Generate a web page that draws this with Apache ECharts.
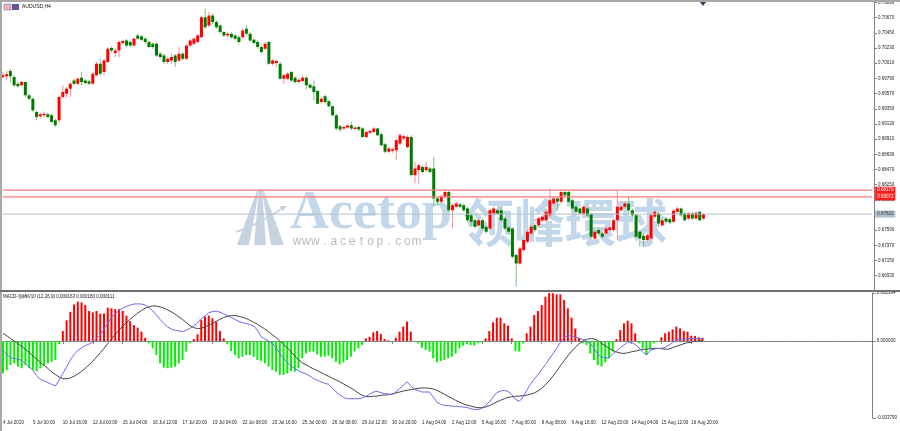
<!DOCTYPE html>
<html>
<head>
<meta charset="utf-8">
<script src="https://cdn.jsdelivr.net/npm/echarts@6/dist/echarts.min.js"></script>
<style>
html, body { margin: 0; padding: 0; background: #fff; }
#main { width: 900px; height: 431px; }
</style>
</head>
<body>
<div id="main"></div>
<script>
var chart = echarts.init(document.getElementById('main'));

// AUDUSD H4 bars: [open, close, low, high]
var ohlc = [
  [0.69810,0.69834,0.69786,0.69882],[0.69820,0.69849,0.69761,0.69897],[0.69897,0.69820,0.69737,0.69930],[0.69810,0.69689,0.69665,0.69834],
  [0.69713,0.69675,0.69656,0.69737],[0.69689,0.69737,0.69675,0.69753],[0.69737,0.69544,0.69520,0.69753],[0.69544,0.69496,0.69472,0.69569],
  [0.69496,0.69327,0.69303,0.69512],[0.69303,0.69231,0.69183,0.69327],[0.69242,0.69271,0.69207,0.69290],[0.69255,0.69279,0.69222,0.69303],
  [0.69271,0.69231,0.69207,0.69290],[0.69255,0.69159,0.69145,0.69279],[0.69183,0.69110,0.69086,0.69207],[0.69183,0.69520,0.69135,0.69544],
  [0.69520,0.69593,0.69496,0.69689],[0.69569,0.69641,0.69512,0.69665],[0.69641,0.69713,0.69520,0.69737],[0.69761,0.69713,0.69689,0.69786],
  [0.69713,0.69786,0.69689,0.69810],[0.69801,0.69737,0.69689,0.69882],[0.69761,0.69724,0.69704,0.69786],[0.69748,0.69713,0.69689,0.69772],
  [0.69713,0.69858,0.69704,0.69882],[0.69834,0.70003,0.69820,0.70027],[0.70003,0.69858,0.69834,0.70075],[0.69882,0.70051,0.69834,0.70075],
  [0.70027,0.70220,0.70013,0.70244],[0.70230,0.70196,0.70171,0.70254],[0.70157,0.70196,0.70099,0.70220],[0.70196,0.70316,0.70099,0.70340],
  [0.70302,0.70331,0.70283,0.70350],[0.70340,0.70268,0.70244,0.70364],[0.70316,0.70268,0.70244,0.70340],[0.70268,0.70364,0.70254,0.70388],
  [0.70413,0.70364,0.70350,0.70437],[0.70398,0.70350,0.70331,0.70418],[0.70364,0.70316,0.70292,0.70388],[0.70316,0.70244,0.70230,0.70340],
  [0.70292,0.70244,0.70220,0.70307],[0.70292,0.70123,0.70099,0.70307],[0.70147,0.70099,0.70075,0.70171],[0.70123,0.70027,0.70003,0.70147],
  [0.70027,0.70075,0.70003,0.70099],[0.70051,0.70099,0.70003,0.70147],[0.70123,0.70027,0.69954,0.70147],[0.70051,0.70147,0.70027,0.70244],
  [0.70147,0.70075,0.70051,0.70171],[0.70075,0.70268,0.70061,0.70292],[0.70268,0.70340,0.70244,0.70364],[0.70292,0.70364,0.70268,0.70388],
  [0.70316,0.70413,0.70302,0.70437],[0.70388,0.70678,0.70379,0.70702],[0.70678,0.70533,0.70509,0.70798],[0.70557,0.70702,0.70533,0.70750],
  [0.70702,0.70606,0.70581,0.70726],[0.70606,0.70533,0.70509,0.70630],[0.70557,0.70461,0.70437,0.70572],[0.70461,0.70413,0.70388,0.70476],
  [0.70413,0.70437,0.70388,0.70451],[0.70437,0.70388,0.70364,0.70456],[0.70413,0.70364,0.70340,0.70437],[0.70388,0.70316,0.70292,0.70413],
  [0.70388,0.70485,0.70364,0.70509],[0.70509,0.70437,0.70413,0.70557],[0.70437,0.70340,0.70316,0.70461],[0.70350,0.70302,0.70283,0.70369],
  [0.70316,0.70244,0.70220,0.70340],[0.70244,0.70171,0.70147,0.70268],[0.70220,0.70292,0.70196,0.70316],[0.70316,0.70003,0.69989,0.70331],
  [0.70003,0.70051,0.69979,0.70075],[0.70013,0.70042,0.69954,0.70061],[0.70003,0.69786,0.69772,0.70027],[0.69786,0.69834,0.69713,0.69858],
  [0.69786,0.69858,0.69761,0.69882],[0.69882,0.69761,0.69737,0.69897],[0.69801,0.69737,0.69713,0.69820],[0.69737,0.69772,0.69713,0.69786],
  [0.69753,0.69801,0.69737,0.69834],[0.69801,0.69689,0.69627,0.69820],[0.69699,0.69656,0.69637,0.69713],[0.69675,0.69593,0.69472,0.69761],
  [0.69608,0.69424,0.69415,0.69627],[0.69448,0.69496,0.69424,0.69520],[0.69531,0.69448,0.69424,0.69550],[0.69458,0.69386,0.69367,0.69472],
  [0.69386,0.69255,0.69242,0.69400],[0.69255,0.69062,0.69038,0.69279],[0.69097,0.69049,0.69014,0.69116],[0.69062,0.69086,0.69038,0.69107],
  [0.69077,0.69107,0.69058,0.69126],[0.69110,0.69062,0.69038,0.69159],[0.69058,0.69077,0.69038,0.69097],[0.69086,0.69049,0.69029,0.69107],
  [0.69062,0.68942,0.68933,0.69086],[0.68942,0.69014,0.68923,0.69038],[0.69001,0.69029,0.68981,0.69049],[0.69014,0.69062,0.69001,0.69086],
  [0.69062,0.68966,0.68953,0.69077],[0.68981,0.68821,0.68808,0.69001],[0.68837,0.68726,0.68702,0.68856],[0.68726,0.68773,0.68702,0.68797],
  [0.68740,0.68764,0.68711,0.68788],[0.68749,0.68893,0.68605,0.68918],[0.68845,0.68966,0.68821,0.68990],[0.68918,0.68953,0.68893,0.68977],
  [0.68797,0.68942,0.68773,0.68966],[0.68942,0.68389,0.68364,0.68966],[0.68386,0.68483,0.68266,0.68579],[0.68459,0.68531,0.68266,0.68555],
  [0.68507,0.68435,0.68410,0.68531],[0.68459,0.68507,0.68435,0.68579],[0.68483,0.68435,0.68410,0.68507],[0.68483,0.68049,0.67928,0.68652],
  [0.68049,0.68001,0.67952,0.68073],[0.68001,0.68073,0.67976,0.68097],[0.68073,0.68145,0.68049,0.68169],[0.68145,0.67880,0.67856,0.68160],
  [0.67880,0.67952,0.67615,0.67976],[0.67928,0.67976,0.67904,0.68001],[0.67967,0.67928,0.67904,0.67986],[0.67952,0.67880,0.67856,0.67976],
  [0.67904,0.67735,0.67711,0.67928],[0.67808,0.67711,0.67639,0.67832],[0.67735,0.67639,0.67615,0.67759],[0.67663,0.67735,0.67639,0.67759],
  [0.67735,0.67615,0.67591,0.67759],[0.67639,0.67567,0.67542,0.67663],[0.67615,0.67880,0.67591,0.67904],[0.67832,0.67904,0.67808,0.67928],
  [0.67880,0.67832,0.67808,0.67904],[0.67880,0.67735,0.67711,0.67928],[0.67759,0.67615,0.67591,0.67784],[0.67630,0.67567,0.67542,0.67649],
  [0.67615,0.67205,0.67181,0.67630],[0.67229,0.67108,0.66771,0.67253],[0.67108,0.67325,0.67085,0.67350],[0.67301,0.67446,0.67277,0.67470],
  [0.67422,0.67567,0.67398,0.67591],[0.67542,0.67639,0.67518,0.67663],[0.67663,0.67591,0.67567,0.67687],[0.67663,0.67759,0.67639,0.67784],
  [0.67735,0.67784,0.67711,0.67808],[0.67735,0.67856,0.67711,0.67880],[0.67808,0.68025,0.67784,0.68193],[0.67976,0.68049,0.67952,0.68073],
  [0.68049,0.68001,0.67880,0.68073],[0.68001,0.68145,0.67976,0.68169],[0.68145,0.68097,0.68073,0.68169],[0.68145,0.68001,0.67986,0.68160],
  [0.68025,0.67904,0.67880,0.68049],[0.67928,0.67856,0.67832,0.67952],[0.67904,0.67832,0.67808,0.67928],[0.67832,0.67928,0.67808,0.67952],
  [0.67904,0.67808,0.67784,0.67928],[0.67823,0.67494,0.67470,0.67842],[0.67470,0.67567,0.67446,0.67591],[0.67591,0.67542,0.67518,0.67615],
  [0.67542,0.67494,0.67470,0.67567],[0.67542,0.67615,0.67518,0.67639],[0.67591,0.67630,0.67567,0.67649],[0.67591,0.67735,0.67567,0.67759],
  [0.67735,0.67928,0.67446,0.68169],[0.67880,0.67928,0.67856,0.67952],[0.67928,0.67976,0.67904,0.68001],[0.67976,0.67880,0.67856,0.68073],
  [0.67880,0.67808,0.67784,0.67904],[0.67808,0.67494,0.67470,0.67832],[0.67567,0.67470,0.67350,0.67591],[0.67504,0.67446,0.67350,0.67533],
  [0.67446,0.67518,0.67422,0.67542],[0.67470,0.67808,0.67456,0.67832],[0.67784,0.67856,0.67759,0.67880],[0.67832,0.67687,0.67639,0.67856],
  [0.67663,0.67735,0.67639,0.67759],[0.67759,0.67711,0.67687,0.67784],[0.67750,0.67702,0.67678,0.67774],[0.67711,0.67871,0.67697,0.67890],
  [0.67856,0.67904,0.67832,0.67928],[0.67904,0.67808,0.67784,0.67918],[0.67832,0.67735,0.67716,0.67851],[0.67759,0.67832,0.67735,0.67851],
  [0.67832,0.67759,0.67735,0.67856],[0.67759,0.67842,0.67735,0.67861],[0.67856,0.67735,0.67716,0.67871],[0.67759,0.67823,0.67735,0.67842]
];

// MACD histogram (one value per bar)
var macdHist = [
  -0.00159,-0.00143,-0.00118,-0.00110,-0.00126,-0.00134,-0.00118,-0.00134,-0.00143,-0.00148,
  -0.00134,-0.00121,-0.00110,-0.00102,-0.00093,-0.00016,0.00049,0.00102,0.00144,0.00180,
  0.00194,0.00190,0.00177,0.00148,0.00141,0.00148,0.00134,0.00136,0.00164,0.00161,
  0.00157,0.00157,0.00148,0.00125,0.00098,0.00079,0.00066,0.00046,0.00016,-0.00011,
  -0.00036,-0.00069,-0.00110,-0.00131,-0.00134,-0.00131,-0.00126,-0.00110,-0.00093,-0.00052,
  -0.00011,0.00010,0.00033,0.00103,0.00120,0.00125,0.00112,0.00095,0.00049,0.00013,
  -0.00016,-0.00049,-0.00069,-0.00085,-0.00077,-0.00069,-0.00069,-0.00077,-0.00093,-0.00098,
  -0.00110,-0.00126,-0.00143,-0.00151,-0.00167,-0.00167,-0.00159,-0.00148,-0.00151,-0.00134,
  -0.00085,-0.00061,-0.00052,-0.00052,-0.00066,-0.00077,-0.00077,-0.00072,-0.00085,-0.00102,
  -0.00115,-0.00105,-0.00093,-0.00077,-0.00052,-0.00036,-0.00020,0.00013,0.00021,0.00043,
  0.00049,0.00034,0.00010,0.00003,-0.00003,0.00016,0.00046,0.00071,0.00095,0.00046,
  -0.00003,-0.00011,-0.00033,-0.00044,-0.00052,-0.00085,-0.00105,-0.00098,-0.00093,-0.00085,
  -0.00077,-0.00061,-0.00036,-0.00023,-0.00016,-0.00020,-0.00023,-0.00011,-0.00007,0.00013,
  0.00049,0.00092,0.00115,0.00115,0.00087,0.00075,0.00013,-0.00049,-0.00052,-0.00011,
  0.00038,0.00071,0.00128,0.00148,0.00177,0.00218,0.00236,0.00235,0.00230,0.00230,
  0.00202,0.00161,0.00115,0.00062,0.00016,-0.00011,-0.00020,-0.00061,-0.00093,-0.00118,
  -0.00126,-0.00105,-0.00085,-0.00052,0.00010,0.00054,0.00087,0.00100,0.00087,0.00038,
  -0.00011,-0.00036,-0.00069,-0.00036,-0.00011,-0.00003,0.00018,0.00038,0.00046,0.00057,
  0.00071,0.00062,0.00049,0.00046,0.00026,0.00025,0.00018,0.00016
];

// slow (black) line
var macdSignal = [
  0.00038,0.00026,0.00013,0,-0.00013,-0.00026,-0.00041,-0.00056,-0.00073,-0.00089,
  -0.00106,-0.00120,-0.00135,-0.00152,-0.00165,-0.00177,-0.00185,-0.00186,-0.00182,-0.00173,
  -0.00162,-0.00149,-0.00134,-0.00117,-0.00099,-0.00079,-0.00058,-0.00036,-0.00013,0.00010,
  0.00033,0.00053,0.00073,0.00091,0.00107,0.00122,0.00137,0.00150,0.00162,0.00168,
  0.00173,0.00172,0.00168,0.00162,0.00153,0.00144,0.00132,0.00119,0.00106,0.00091,
  0.00076,0.00066,0.00061,0.00063,0.00069,0.00078,0.00087,0.00097,0.00107,0.00116,
  0.00122,0.00125,0.00125,0.00122,0.00117,0.00111,0.00102,0.00092,0.00083,0.00071,
  0.00059,0.00046,0.00031,0.00017,0,-0.00017,-0.00033,-0.00053,-0.00073,-0.00092,
  -0.00107,-0.00117,-0.00127,-0.00137,-0.00145,-0.00155,-0.00165,-0.00173,-0.00183,-0.00191,
  -0.00201,-0.00211,-0.00221,-0.00231,-0.00243,-0.00256,-0.00267,-0.00274,-0.00274,-0.00272,
  -0.00271,-0.00267,-0.00266,-0.00264,-0.00261,-0.00256,-0.00251,-0.00246,-0.00243,-0.00239,
  -0.00236,-0.00233,-0.00231,-0.00231,-0.00233,-0.00236,-0.00243,-0.00252,-0.00262,-0.00272,
  -0.00282,-0.00292,-0.00300,-0.00309,-0.00315,-0.00320,-0.00325,-0.00328,-0.00328,-0.00325,
  -0.00318,-0.00310,-0.00300,-0.00292,-0.00284,-0.00277,-0.00274,-0.00272,-0.00271,-0.00269,
  -0.00266,-0.00262,-0.00256,-0.00246,-0.00233,-0.00216,-0.00196,-0.00173,-0.00149,-0.00122,
  -0.00097,-0.00073,-0.00050,-0.00030,-0.00013,0,0.00008,0.00012,0.00010,0.00003,
  -0.00012,-0.00023,-0.00036,-0.00046,-0.00054,-0.00059,-0.00061,-0.00058,-0.00053,-0.00050,
  -0.00045,-0.00041,-0.00040,-0.00038,-0.00036,-0.00036,-0.00038,-0.00040,-0.00040,-0.00033,
  -0.00026,-0.00020,-0.00013,-0.00008,-0.00005,-0.00002,0,0.00002
];

// fast (blue) line
var macdMain = [
  -0.00045,-0.00066,-0.00083,-0.00086,-0.00089,-0.00096,-0.00111,-0.00127,-0.00144,-0.00172,
  -0.00188,-0.00196,-0.00205,-0.00213,-0.00221,-0.00193,-0.00160,-0.00127,-0.00094,-0.00066,
  -0.00046,-0.00033,-0.00023,-0.00015,-0.00005,0.00013,0.00031,0.00059,0.00086,0.00116,
  0.00135,0.00150,0.00162,0.00170,0.00177,0.00182,0.00183,0.00182,0.00177,0.00165,
  0.00149,0.00129,0.00106,0.00086,0.00069,0.00059,0.00053,0.00050,0.00046,0.00053,
  0.00063,0.00074,0.00089,0.00109,0.00124,0.00139,0.00145,0.00147,0.00142,0.00134,
  0.00125,0.00116,0.00106,0.00097,0.00091,0.00086,0.00081,0.00074,0.00054,0.00021,
  0.00010,0,-0.00013,-0.00033,-0.00061,-0.00086,-0.00106,-0.00124,-0.00135,-0.00147,
  -0.00155,-0.00162,-0.00172,-0.00185,-0.00193,-0.00201,-0.00208,-0.00213,-0.00231,-0.00249,
  -0.00264,-0.00277,-0.00284,-0.00284,-0.00284,-0.00284,-0.00281,-0.00272,-0.00262,-0.00251,
  -0.00248,-0.00254,-0.00259,-0.00261,-0.00264,-0.00251,-0.00234,-0.00218,-0.00201,-0.00221,
  -0.00238,-0.00244,-0.00251,-0.00251,-0.00251,-0.00276,-0.00300,-0.00312,-0.00317,-0.00318,
  -0.00320,-0.00322,-0.00323,-0.00325,-0.00327,-0.00333,-0.00337,-0.00337,-0.00332,-0.00317,
  -0.00300,-0.00276,-0.00254,-0.00246,-0.00243,-0.00248,-0.00264,-0.00287,-0.00297,-0.00276,
  -0.00243,-0.00213,-0.00188,-0.00165,-0.00140,-0.00116,-0.00089,-0.00063,-0.00036,-0.00007,
  0.00017,0.00026,0.00025,0.00020,0.00013,0.00008,0,-0.00013,-0.00036,-0.00066,
  -0.00078,-0.00083,-0.00083,-0.00063,-0.00050,-0.00033,-0.00020,-0.00005,-0.00007,-0.00017,
  -0.00033,-0.00053,-0.00068,-0.00046,-0.00040,-0.00036,-0.00036,-0.00031,-0.00021,-0.00008,
  0.00005,0.00008,0.00010,0.00010,0.00012,0.00013,0.00012,0.00010
];

// one label every 8 bars
var timeLabels = ['4 Jul 2019','9 Jul 00:00','10 Jul 16:00','12 Jul 00:00','15 Jul 04:00','16 Jul 12:00',
  '17 Jul 20:00','19 Jul 04:00','22 Jul 08:00','23 Jul 16:00','25 Jul 00:00','26 Jul 08:00',
  '29 Jul 12:00','30 Jul 20:00','1 Aug 04:00','2 Aug 12:00','5 Aug 16:00','7 Aug 00:00',
  '8 Aug 08:00','9 Aug 16:00','12 Aug 20:00','14 Aug 04:00','15 Aug 12:00','16 Aug 20:00'];
var priceTicks = [0.70890,0.70670,0.70450,0.70230,0.70010,0.69790,0.69570,0.69350,0.69130,0.68910,
  0.68690,0.68470,0.68250,0.68030,0.67810,0.67590,0.67370,0.67150,0.66930];
var macdTicks = [0.002364, 0, -0.003790];
var levelLines = [0.68170, 0.68072];
var lastPrice = 0.67823;

var SLOTS = 233; // bars that fit across the window, incl. the empty right margin
var slots = [];
for (var i = 0; i < SLOTS; i++) slots.push(String(i));

var candleData = ohlc.map(function (d, i) { return [i, d[0], d[1], d[2], d[3]]; });

function labelAt(idx) { return idx % 8 === 0 && idx / 8 < timeLabels.length; }

// horizontal price level drawn across the whole window, tagged on the price scale
function levelSeries(value, lineColor, tagColor, textColor, width) {
  return {
    type: 'line', xAxisIndex: 0, yAxisIndex: 0, z: 4, silent: true,
    symbol: 'none',
    data: [[0, value], [SLOTS - 1, value]],
    lineStyle: { color: lineColor, width: width },
    endLabel: {
      show: true, distance: 3, fontSize: 4.5, fontFamily: 'Liberation Sans',
      color: textColor, backgroundColor: tagColor, padding: [1, 2],
      formatter: function () { return value.toFixed(5); }
    }
  };
}

var wmColor = '#c3d7eb';
var watermark = [
  { type: 'polygon', z: 0, shape: { points: [[237,245],[249,245],[259,191],[257,191]] }, style: { fill: '#c6d4e2' } },
  { type: 'polygon', z: 0, shape: { points: [[254,245],[266,245],[262,189],[259,189]] }, style: { fill: '#c6d4e2' } },
  { type: 'polygon', z: 0, shape: { points: [[271,245],[284,245],[264,191],[262,191]] }, style: { fill: '#c6d4e2' } },
  { type: 'bezierCurve', z: 0, shape: { x1: 236, y1: 232, x2: 283, y2: 208, cpx1: 256, cpy1: 226 }, style: { stroke: '#c6d4e2', lineWidth: 2, fill: null } },
  { type: 'polygon', z: 0, shape: { points: [[287,206],[279,206],[283,211]] }, style: { fill: '#c6d4e2' } },
  { type: 'text', z: 0, x: 290, y: 214, style: { text: 'Acetop', fontFamily: 'Liberation Serif', fontWeight: 'bold', fontSize: 54, fill: wmColor, verticalAlign: 'middle' } },
  { type: 'text', z: 0, x: 463, y: 223, style: { text: '领峰環球', fontFamily: 'Noto Sans CJK SC', fontWeight: 'bold', fontSize: 51, fill: wmColor, verticalAlign: 'middle' } }
];
'www.acetop.com'.split('').forEach(function (ch, k) {
  watermark.push({ type: 'text', z: 0, x: 297 + k * 9.2, y: 242,
    style: { text: ch, fontFamily: 'Liberation Sans', fontSize: 12, fill: '#bcbcbc', align: 'center', verticalAlign: 'middle' } });
});

var frame = [
  { type: 'rect', z: 100, shape: { x: 0, y: 0, width: 900, height: 2 }, style: { fill: '#a8a8a8' } },
  { type: 'rect', z: 100, shape: { x: 0, y: 0, width: 2, height: 431 }, style: { fill: '#a8a8a8' } },
  { type: 'rect', z: 100, shape: { x: 0, y: 290, width: 900, height: 2 }, style: { fill: '#707070' } },
  { type: 'polygon', z: 100, shape: { points: [[700,2],[706,2],[703,6]] }, style: { fill: '#3a3a5a' } },
  { type: 'rect', z: 100, shape: { x: 4, y: 4, width: 7, height: 6 }, style: { fill: '#f4b0b0', stroke: '#5a7ac0', lineWidth: 0.6 } },
  { type: 'rect', z: 100, shape: { x: 12, y: 4, width: 7, height: 6 }, style: { fill: '#3f5fbf' } },
  { type: 'rect', z: 101, shape: { x: 14, y: 5, width: 1.2, height: 4 }, style: { fill: '#e03030' } },
  { type: 'rect', z: 101, shape: { x: 16.5, y: 6, width: 1.2, height: 3 }, style: { fill: '#e03030' } },
  { type: 'text', z: 100, x: 22, y: 7, style: { text: 'AUDUSD,H4', fontFamily: 'Liberation Sans', fontSize: 5, fill: '#111', verticalAlign: 'middle' } },
  { type: 'text', z: 100, x: 3, y: 297, style: { text: 'MACD-领峰V10 (12,26,9) 0.000163 0.000180 0.000111', fontFamily: 'Liberation Sans', fontSize: 4.5, fill: '#111', verticalAlign: 'middle' } }
];

var option = {
  animation: false,
  backgroundColor: '#ffffff',
  graphic: watermark.concat(frame),
  grid: [
    { left: 1, right: 26, top: 2, height: 288 },
    { left: 1, right: 26, top: 293, height: 125 }
  ],
  xAxis: [
    { type: 'category', gridIndex: 0, data: slots, boundaryGap: true,
      axisLine: { show: false }, axisTick: { show: false }, axisLabel: { show: false }, splitLine: { show: false } },
    { type: 'category', gridIndex: 1, data: slots, boundaryGap: true,
      axisLine: { show: true, lineStyle: { color: '#808080', width: 1 } },
      axisTick: { show: true, alignWithLabel: true, interval: labelAt, length: 3, lineStyle: { color: '#808080' } },
      axisLabel: { show: true, interval: labelAt, align: 'left', margin: 2, fontSize: 4.5, color: '#222', fontFamily: 'Liberation Sans',
        formatter: function (v, idx) { return timeLabels[idx / 8]; } },
      splitLine: { show: false } }
  ],
  yAxis: [
    { type: 'value', gridIndex: 0, position: 'right', min: 0.66723, max: 0.70890,
      axisLine: { show: true, lineStyle: { color: '#808080' } },
      axisTick: { show: true, customValues: priceTicks, length: 3, lineStyle: { color: '#808080' } },
      axisLabel: { show: true, customValues: priceTicks, margin: 4, fontSize: 4.5, color: '#222', fontFamily: 'Liberation Sans',
        formatter: function (v) { return v.toFixed(5); } },
      splitLine: { show: false } },
    { type: 'value', gridIndex: 1, position: 'right', min: -0.003790, max: 0.002364,
      axisLine: { show: true, lineStyle: { color: '#808080' } },
      axisTick: { show: true, customValues: macdTicks, length: 3, lineStyle: { color: '#808080' } },
      axisLabel: { show: true, customValues: macdTicks, margin: 4, fontSize: 4.5, color: '#222', fontFamily: 'Liberation Sans',
        formatter: function (v) { return v.toFixed(6); } },
      splitLine: { show: false } }
  ],
  series: [
    {
      name: 'AUDUSD', type: 'custom', xAxisIndex: 0, yAxisIndex: 0, z: 3, clip: true,
      data: candleData,
      encode: { x: 0, y: [1, 2, 3, 4] },
      renderItem: function (params, api) {
        var idx = api.value(0);
        var o = api.coord([idx, api.value(1)]);
        var c = api.coord([idx, api.value(2)]);
        var l = api.coord([idx, api.value(3)]);
        var h = api.coord([idx, api.value(4)]);
        var up = api.value(2) >= api.value(1);
        var top = Math.min(o[1], c[1]);
        var bot = Math.max(o[1], c[1]);
        return {
          type: 'group',
          children: [
            { type: 'line', shape: { x1: o[0], y1: h[1], x2: o[0], y2: l[1] },
              style: { stroke: up ? '#ff8c8c' : '#7fc07f', lineWidth: 1 } },
            { type: 'rect', shape: { x: o[0] - 1.5, y: top, width: 3, height: Math.max(bot - top, 1) },
              style: { fill: up ? '#ff0000' : '#007a00' } }
          ]
        };
      }
    },
    levelSeries(levelLines[0], '#ff7878', '#ff1a1a', '#ffffff', 1.3),
    levelSeries(levelLines[1], '#ff7878', '#ff1a1a', '#ffffff', 1.3),
    levelSeries(lastPrice, '#b4c0cc', '#b4c0cc', '#223344', 1),
    {
      name: 'hist', type: 'bar', xAxisIndex: 1, yAxisIndex: 1, barWidth: 2, data: macdHist,
      itemStyle: { color: function (p) { return p.value >= 0 ? '#ff0000' : '#00f000'; } },
      markLine: {
        silent: true, symbol: ['none', 'none'], label: { show: false },
        data: [{ yAxis: 0 }],
        lineStyle: { color: '#909090', width: 1, type: [1, 2] }
      }
    },
    {
      name: 'signal', type: 'line', xAxisIndex: 1, yAxisIndex: 1, data: macdSignal, showSymbol: false, z: 4,
      lineStyle: { color: '#444444', width: 1 }
    },
    {
      name: 'main', type: 'line', xAxisIndex: 1, yAxisIndex: 1, data: macdMain, showSymbol: false, z: 5,
      lineStyle: { color: '#6a6af0', width: 1 }
    }
  ]
};

chart.setOption(option);
</script>
</body>
</html>
